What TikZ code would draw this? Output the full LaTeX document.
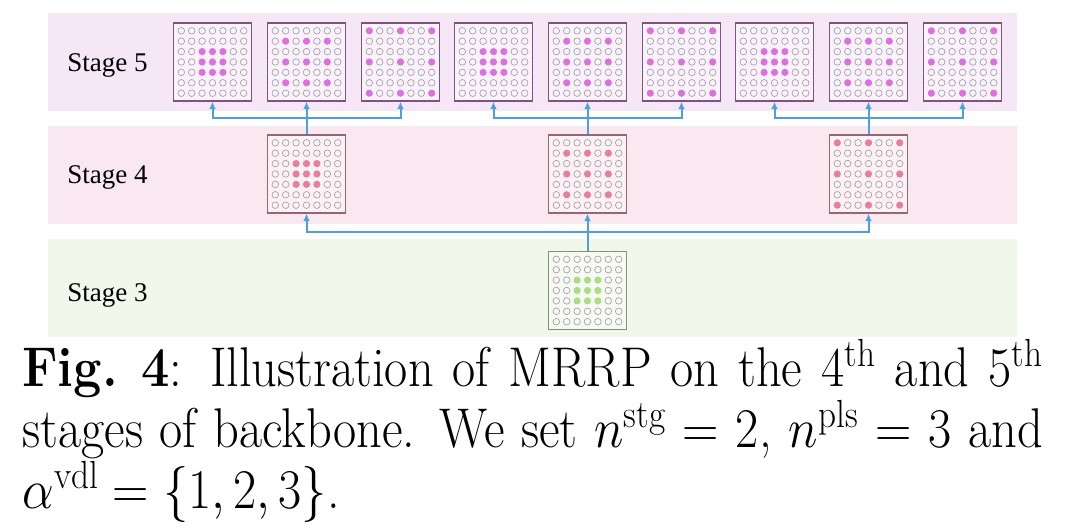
\RequirePackage{fix-cm}
\documentclass[tikz,border=0pt]{standalone}
\usepackage{amsmath}
\usepackage{fontspec}
\usepackage{tikz}
\usetikzlibrary{arrows.meta}
\newfontfamily\stagefont{Liberation Serif}

\definecolor{fiveband}{RGB}{246,231,246}
\definecolor{fivebox}{RGB}{250,242,250}
\definecolor{fiveline}{RGB}{128,82,128}
\definecolor{fivedot}{RGB}{220,112,220}
\definecolor{fourband}{RGB}{250,232,240}
\definecolor{fourbox}{RGB}{252,241,245}
\definecolor{fourline}{RGB}{150,102,118}
\definecolor{fourdot}{RGB}{232,126,158}
\definecolor{threeband}{RGB}{242,247,236}
\definecolor{threebox}{RGB}{246,250,242}
\definecolor{threeline}{RGB}{128,148,110}
\definecolor{threedot}{RGB}{172,220,132}
\definecolor{arrowblue}{RGB}{78,160,220}
\definecolor{emptygray}{RGB}{170,162,170}

\tikzset{
  grid box/.style={draw=#1, line width=0.6pt, minimum size=39pt, inner sep=0pt},
  empty dot/.style={draw=emptygray, line width=0.35pt},
  conn/.style={draw=arrowblue, line width=1pt, -{Latex[length=3.8pt,width=3.4pt]}},
  stage label/.style={font=\stagefont\fontsize{13.5}{16}\selectfont, inner sep=0pt},
}

% one 7x7 pooling window: name, x, y, dilation, colour prefix
\newcommand{\poolgrid}[5]{%
  \node[grid box=#5line, fill=#5box] (#1) at ({#2},{#3}) {};
  \foreach \row in {0,...,6}{
    \foreach \col in {0,...,6}{
      \pgfmathtruncatemacro{\hit}{and(or(\row==3,abs(\row-3)==#4),or(\col==3,abs(\col-3)==#4))}
      \ifnum\hit=1
        \fill[#5dot] ({#2+(\col-3)*10.4},{#3+(3-\row)*10.4}) circle (3.6);
      \else
        \draw[empty dot] ({#2+(\col-3)*10.4},{#3+(3-\row)*10.4}) circle (3.3);
      \fi
    }
  }
}

\begin{document}
\begin{tikzpicture}[x=0.5pt,y=0.5pt]
\useasboundingbox (0,0) rectangle (1080,530);

% Draw the three stage bands
\fill[fiveband]  (48,419) rectangle (1017,517);
\fill[fourband]  (48,306) rectangle (1017,404);
\fill[threeband] (48,193) rectangle (1017,291);

\node[stage label, anchor=base west] (lab5) at (67,458) {Stage 5};
\node[stage label, anchor=base west] (lab4) at (67,346) {Stage 4};
\node[stage label, anchor=base west] (lab3) at (67,228) {Stage 3};

% Stage 5 : three dilations for every window of stage 4
\foreach \g/\gx in {a/306.5, b/587.5, c/868.5}{
  \foreach \d in {1,2,3}{
    \poolgrid{s5\g\d}{\gx+(\d-2)*94}{468}{\d}{five}
  }
}

% Stage 4
\foreach \g/\gx/\d in {a/306.5/1, b/587.5/2, c/868.5/3}{
  \poolgrid{s4\g}{\gx}{356}{\d}{four}
}

% Stage 3
\poolgrid{s3}{587.5}{239.5}{1}{three}

% Connectors stage 4 -> stage 5
\foreach \g in {a,b,c}{
  \path (s4\g.north) ++(0,16) coordinate (j\g);
  \draw[conn] (s4\g.north) -- (s5\g2.south);
  \draw[conn] (j\g) -| (s5\g1.south);
  \draw[conn] (j\g) -| (s5\g3.south);
}

% Connectors stage 3 -> stage 4
\path (s3.north) ++(0,18.5) coordinate (jroot);
\draw[conn] (s3.north) -- (s4b.south);
\draw[conn] (jroot) -| (s4a.south);
\draw[conn] (jroot) -| (s4c.south);

% Caption
\node[anchor=north west, inner sep=0pt, xscale=0.9, text width=567pt, align=justify,
      font=\fontsize{28}{27}\selectfont] (cap) at (22,191)
  {\baselineskip=27pt\lineskiplimit=-20pt\textbf{Fig.\ 4}: Illustration of MRRP on the $4^{\mathrm{th}}$ and $5^{\mathrm{th}}$\linebreak
   stages of backbone. We set $n^{\mathrm{stg}}=2$, $n^{\mathrm{pls}}=3$ and\linebreak
   $\alpha^{\mathrm{vdl}}=\{1,2,3\}$.};

\end{tikzpicture}
\end{document}
